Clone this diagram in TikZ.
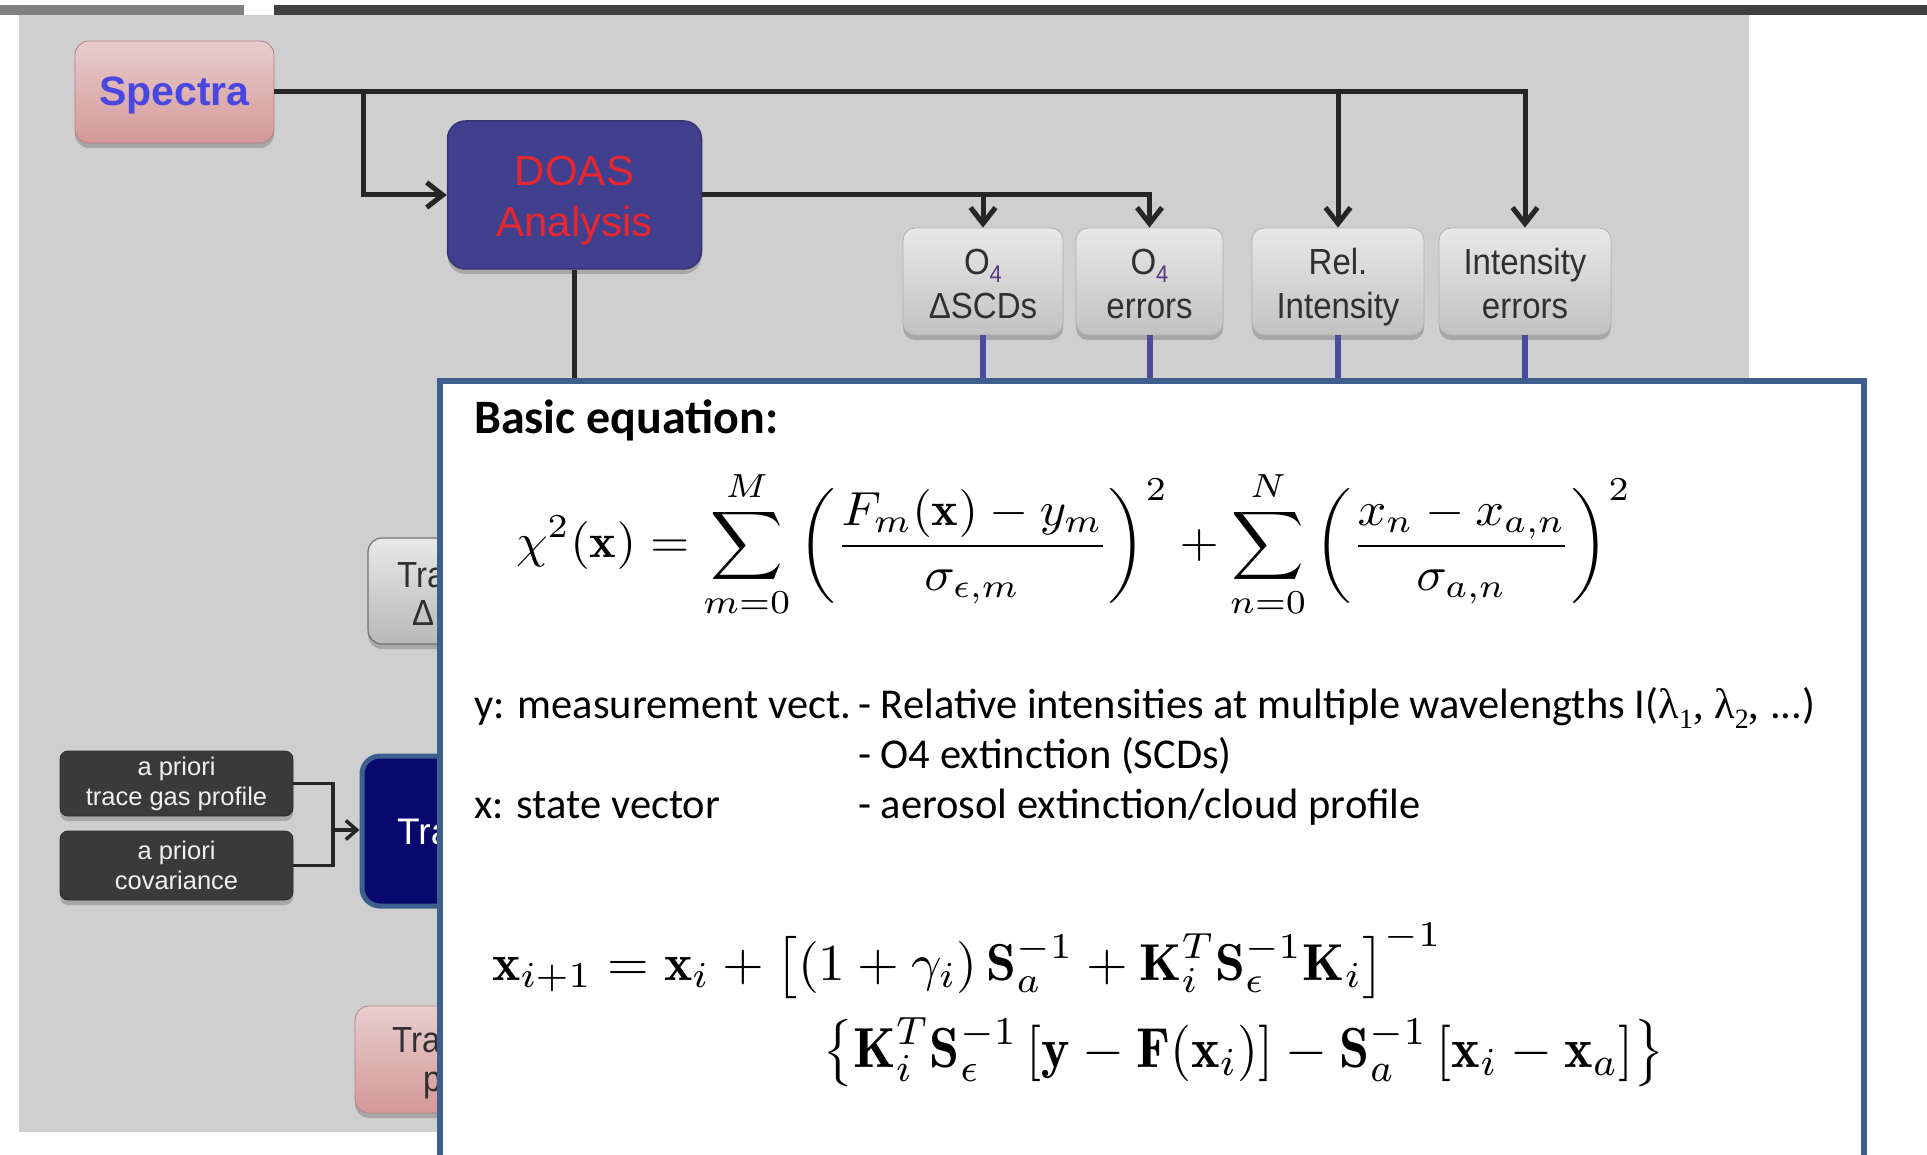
\documentclass[tikz,border=0pt]{standalone}
\usepackage{fontspec}
\usepackage{amsmath}
\usepackage{graphicx}
\usetikzlibrary{arrows.meta,shadows}
\newfontfamily\arialf{Liberation Sans}
\newfontfamily\calf{Carlito}
\newfontfamily\timesf{Liberation Serif}
\definecolor{bargray}{HTML}{808080}
\definecolor{bardark}{HTML}{404040}
\definecolor{bggray}{HTML}{CFCFCF}
\definecolor{linec}{HTML}{262626}
\definecolor{bluec}{HTML}{4B4B9B}
\definecolor{panelc}{HTML}{3D5F8E}
\definecolor{doasfill}{HTML}{40408F}
\definecolor{doastext}{HTML}{E8262E}
\definecolor{spectop}{HTML}{E8CDCD}
\definecolor{specbot}{HTML}{D59898}
\definecolor{spectext}{HTML}{4848E0}
\definecolor{sboxtop}{HTML}{E8E8E8}
\definecolor{sboxbot}{HTML}{C2C2C2}
\definecolor{sboxtext}{HTML}{303030}
\definecolor{navyc}{HTML}{08086E}
\definecolor{aprioric}{HTML}{3A3A3A}
\definecolor{subc}{HTML}{5A3A7A}
\newcommand{\twolines}[2]{\begin{tabular}{@{}c@{}}#1\\#2\end{tabular}}
\newcommand{\onelinebox}[1]{\begin{tabular}{@{}c@{}}#1\end{tabular}}
\newcommand{\Ofour}{O\raisebox{-0.22em}{\color{subc}\fontsize{22}{22}\selectfont 4}}
\begin{document}
\begin{tikzpicture}[x=1pt,y=-1pt,
  conn/.style={draw=linec,line width=5pt},
  conntwo/.style={draw=linec,line width=3.5pt},
  tipd/.style={-{Straight Barb[length=16pt,width=25pt,line width=5pt]}},
  tips/.style={-{Straight Barb[length=11pt,width=19pt,line width=3.5pt]}},
  bluel/.style={draw=bluec,line width=6pt},
  shad/.style={drop shadow={shadow xshift=0pt,shadow yshift=-5pt,opacity=0.3,fill=black!70}},
  specbox/.style={shad,rounded corners=14pt,top color=spectop,bottom color=specbot,draw=specbot!85!black,line width=0.8pt,
     minimum width=199pt,minimum height=102pt,inner sep=0pt},
  doasbox/.style={shad,rounded corners=18pt,fill=doasfill,draw=doasfill!80!black,line width=1.5pt,
     minimum width=254pt,minimum height=148pt,inner sep=0pt},
  sbox/.style={shad,rounded corners=12pt,top color=sboxtop,bottom color=sboxbot,draw=sboxbot!90!black,line width=0.8pt,
     minimum height=107pt,inner sep=0pt},
  boxlab/.style={inner sep=0pt,text=sboxtext,font=\arialf\fontsize{33}{40}\selectfont},
  apbox/.style={shad,rounded corners=8pt,fill=aprioric,draw=aprioric!80!black,line width=0.8pt,minimum width=233pt,
     inner sep=0pt,text=white!94!black,align=center,font=\arialf\fontsize{25.5}{30}\selectfont},
  hidtext/.style={anchor=base west,inner sep=0pt,text=sboxtext,font=\arialf\fontsize{33}{40}\selectfont},
  body/.style={anchor=base west,inner sep=0pt,text=black,font=\calf\fontsize{42.5}{48}\selectfont},
  eqn/.style={anchor=north west,inner sep=0pt}
]
\useasboundingbox (0,0) rectangle (1927,1155);
\clip (0,0) rectangle (1927,1155);
\fill[white] (0,0) rectangle (1927,1155);
\fill[bargray] (0,5) rectangle (244,15);
\fill[bardark] (274,5) rectangle (1927,15);
\fill[bggray] (19,15) rectangle (1749,1132);
\coordinate (ptop) at (0,381);

% top flow
\node[specbox,label={[inner sep=0pt,yshift=-4pt,text=spectext,font=\arialf\bfseries\fontsize{41}{48}\selectfont]center:{\onelinebox{Spectra}}}] (spectra) at (174.5,92) {};
\node[doasbox,label={[inner sep=0pt,yshift=-6pt,text=doastext,font=\arialf\fontsize{42}{51}\selectfont]center:{\twolines{DOAS}{Analysis}}}] (doas) at (574.5,195) {};
\node[sbox,minimum width=160pt,label={[boxlab,yshift=-6.5pt]center:{\scalebox{1}[1.1]{\twolines{\Ofour}{ΔSCDs}}}}] (o4s) at (983,281.5) {};
\node[sbox,minimum width=147pt,label={[boxlab,yshift=-6.5pt]center:{\scalebox{1}[1.1]{\twolines{\Ofour}{errors}}}}] (o4e) at (1149.5,281.5) {};
\node[sbox,minimum width=172pt,label={[boxlab,yshift=-6.5pt]center:{\scalebox{1}[1.1]{\twolines{Rel.}{Intensity}}}}] (ri) at (1338,281.5) {};
\node[sbox,minimum width=172pt,label={[boxlab,yshift=-6.5pt]center:{\scalebox{1}[1.1]{\twolines{Intensity}{errors}}}}] (ie) at (1525,281.5) {};

\coordinate (sj) at (363,92);
\draw[conn,tipd] (spectra.east) -| (ie.north);
\draw[conn,tipd] (ri.north |- spectra.east) -- (ri.north);
\draw[conn,tipd] (sj) |- (doas.west);
\draw[conn,tipd] (doas.east) -| (o4e.north);
\draw[conn,tipd] (o4s.north |- doas.east) -- (o4s.north);
\draw[conn] (doas.south) -- (doas.south |- ptop);
\draw[bluel] (o4s.south) -- (o4s.south |- ptop);
\draw[bluel] (o4e.south) -- (o4e.south |- ptop);
\draw[bluel] (ri.south) -- (ri.south |- ptop);
\draw[bluel] (ie.south) -- (ie.south |- ptop);

% left side, partly hidden
\node[shad,rounded corners=14pt,top color=sboxtop,bottom color=sboxbot!95!black,draw=black!55,line width=1.2pt,
      minimum width=162pt,minimum height=106pt] (trd) at (449,591) {};
\node[hidtext] (trdt1) at (397,587) {\scalebox{1}[1.1]{Tra}};
\node[hidtext] (trdt2) at (412,625) {\scalebox{1}[1.1]{Δ}};

\node[apbox,minimum height=65pt] (ap1) at (176.5,783.5) {a priori\\trace gas profile};
\node[apbox,minimum height=69pt] (ap2) at (176.5,865.5) {a priori\\covariance};
\node[rounded corners=18pt,fill=navyc,draw=panelc,line width=5pt,minimum width=168pt,minimum height=150pt] (navy) at (446,831) {};
\node[anchor=base west,inner sep=0pt,text=white,font=\arialf\fontsize{37}{44}\selectfont] (navyt) at (397,844) {Tra};
\coordinate (apj) at (333,830);
\draw[conntwo] (ap1.east) -| (apj);
\draw[conntwo] (ap2.east) -| (apj);
\draw[conntwo,tips] (apj) -- (navy.west |- apj);

\node[shad,rounded corners=14pt,top color=spectop,bottom color=specbot,draw=specbot!85!black,line width=0.8pt,
      minimum width=175pt,minimum height=107pt] (pk) at (442.5,1059.5) {};
\node[hidtext] (pkt1) at (392,1052) {\scalebox{1}[1.1]{Tra}};
\node[hidtext] (pkt2) at (423,1091) {\scalebox{1}[1.1]{p}};

% text panel
\draw[panelc,line width=6pt,fill=white] (440,381) rectangle (1864,1220);
\node[body,font=\calf\bfseries\fontsize{48}{54}\selectfont] (title) at (474,433) {Basic equation:};
\node[eqn] (eq1) at (516,470) {\resizebox*{1115pt}{148pt}{$\displaystyle
  \chi^2(\mathbf{x}) = \sum_{m=0}^{M}\left(\frac{F_m(\mathbf{x})-y_m}{\sigma_{\epsilon,m}}\right)^2
  + \sum_{n=0}^{N}\left(\frac{x_n-x_{a,n}}{\sigma_{a,n}}\right)^2$}};
\node[body] (ylab) at (474,718) {y: measurement vect.};
\node[body] (ydesc) at (858,718) {- Relative intensities at multiple wavelengths I({\timesf λ\raisebox{-0.25em}{\fontsize{28}{28}\selectfont 1}, λ\raisebox{-0.25em}{\fontsize{28}{28}\selectfont 2}, }...)};
\node[body] (ydesc2) at (858,768) {- O4 extinction (SCDs)};
\node[body] (xlab) at (474,818) {x: state vector};
\node[body] (xdesc) at (858,818) {- aerosol extinction/cloud profile};
\node[eqn] (eq2a) at (492,923) {\resizebox*{950pt}{75pt}{$\displaystyle
  \mathbf{x}_{i+1} = \mathbf{x}_i + \left[\left(1+\gamma_i\right)\mathbf{S}_a^{-1} + \mathbf{K}_i^T\mathbf{S}_\epsilon^{-1}\mathbf{K}_i\right]^{-1}$}};
\node[eqn] (eq2b) at (822,1017) {\resizebox*{843pt}{70pt}{$\displaystyle
  \left\{\mathbf{K}_i^T\mathbf{S}_\epsilon^{-1}\left[\mathbf{y}-\mathbf{F}(\mathbf{x}_i)\right] - \mathbf{S}_a^{-1}\left[\mathbf{x}_i-\mathbf{x}_a\right]\right\}$}};
\end{tikzpicture}
\end{document}
